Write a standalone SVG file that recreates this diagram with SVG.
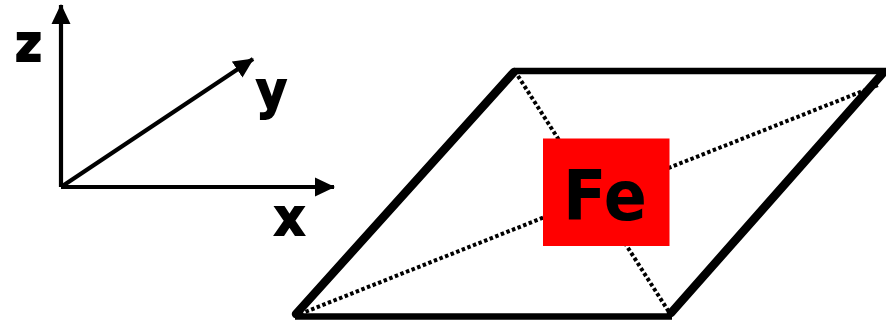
<svg xmlns="http://www.w3.org/2000/svg" width="886" height="322" viewBox="0 0 886 322">
<style>
.lbl{font-family:"DejaVu Sans",Verdana,sans-serif;font-weight:bold;fill:#000}
.big{stroke:#000;stroke-width:1.800}
.axis{stroke:#000;stroke-width:4.200;fill:none}
.dot{stroke:#000;stroke-width:4;fill:none;stroke-dasharray:3.500 2.500}
.edge{stroke:#000;stroke-width:6.500;fill:none}
.side{stroke:#000;stroke-width:8.500;fill:none;stroke-linecap:round}
</style>
<defs>
<marker id="ah" markerUnits="userSpaceOnUse" markerWidth="21" markerHeight="21" refX="19" refY="10" orient="auto"><path d="M0 0.500L20 10L0 19.500Z" fill="#000"/></marker>
</defs>
<rect width="886" height="322" fill="#fff"/>
<g id="connectors">
<line class="axis" x1="61" y1="187" x2="61" y2="5" marker-end="url(#ah)"/>
<line class="axis" x1="61" y1="187" x2="334" y2="187" marker-end="url(#ah)"/>
<line class="axis" x1="61" y1="187" x2="253" y2="59" marker-end="url(#ah)"/>
<line class="dot" x1="518" y1="76" x2="669" y2="312"/>
<line class="dot" x1="300" y1="314" x2="878" y2="85"/>
<line class="edge" x1="514" y1="71" x2="886" y2="71"/>
<line class="edge" x1="295" y1="316.500" x2="672" y2="316.500"/>
<line class="side" x1="296" y1="314" x2="514" y2="72"/>
<line class="side" x1="671" y1="313" x2="883" y2="73"/>
</g>
<g id="label-z"><text class="lbl big" x="15" y="61" font-size="51" textLength="27" lengthAdjust="spacingAndGlyphs">z</text></g>
<g id="label-y"><text class="lbl big" x="256" y="108" font-size="52" textLength="31" lengthAdjust="spacingAndGlyphs">y</text></g>
<g id="label-x"><text class="lbl big" x="274" y="235" font-size="51" textLength="31" lengthAdjust="spacingAndGlyphs">x</text></g>
<g id="node-fe">
<rect x="543" y="138.500" width="126.500" height="107.500" fill="#f00"/>
<text class="lbl" x="563" y="220" font-size="69" textLength="84" lengthAdjust="spacingAndGlyphs">Fe</text>
</g>
</svg>
